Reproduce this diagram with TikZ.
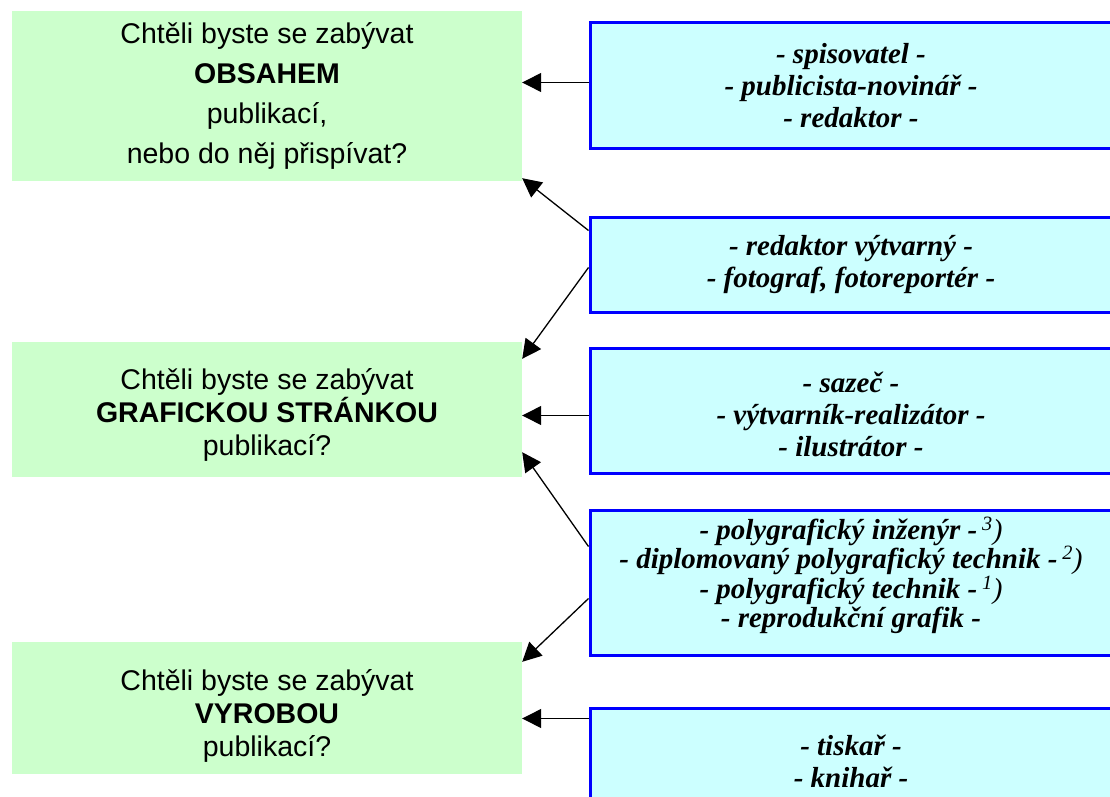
\documentclass[tikz,border=0pt]{standalone}
\usepackage{fontspec}
\setmainfont{Liberation Serif}
\newfontfamily\arialf{Liberation Sans}
\usetikzlibrary{arrows.meta}
\definecolor{gfill}{RGB}{204,255,204}
\definecolor{bfill}{RGB}{204,255,255}
\definecolor{bdraw}{RGB}{0,0,255}
\newcommand\fnref[1]{\,\textsuperscript{\mdseries #1}{\mdseries)}}
\begin{document}
\begin{tikzpicture}[x=1pt,y=-1pt,
  gbox/.style={fill=gfill, draw=none, inner sep=0pt, minimum width=510pt},
  gtext/.style={inner sep=0pt, align=center, font=\arialf\fontsize{28.5}{#1}\selectfont},
  bbox/.style={fill=bfill, draw=bdraw, line width=3pt, inner sep=0pt, minimum width=522pt},
  btext/.style={inner sep=0pt, align=center, font=\bfseries\itshape\fontsize{29}{#1}\selectfont},
  conn/.style={line width=1.3pt, -{Triangle[length=19pt,width=19pt]}}]
\useasboundingbox (0,0) rectangle (1110,797);
% green question boxes
\node[gbox, minimum height=170pt] (g1) at (267,96) {};
\node[gtext=40] (g1t) at (267,96) {Chtěli byste se zabývat\\ \textbf{OBSAHEM}\\ publikací,\\ nebo do něj přispívat?};
\node[gbox, minimum height=135pt] (g2) at (267,409.5) {};
\node[gtext=33] (g2t) at (267,415) {Chtěli byste se zabývat\\ \textbf{GRAFICKOU STRÁNKOU}\\ publikací?};
\node[gbox, minimum height=132pt] (g3) at (267,708) {};
\node[gtext=33] (g3t) at (267,716) {Chtěli byste se zabývat\\ \textbf{VYROBOU}\\ publikací?};
% blue profession boxes
\node[bbox, minimum height=125pt] (b1) at (851,85.5) {};
\node[btext=32] (b1t) at (851,86) {- spisovatel -\\ - publicista-novinář -\\ - redaktor -};
\node[bbox, minimum height=95pt] (b2) at (851,264.5) {};
\node[btext=32] (b2t) at (851,265) {- redaktor výtvarný -\\ - fotograf, fotoreportér -};
\node[bbox, minimum height=125pt] (b3) at (851,410.5) {};
\node[btext=32] (b3t) at (851,414) {- sazeč -\\ - výtvarník-realizátor -\\ - ilustrátor -};
\node[bbox, minimum height=145pt] (b4) at (851,582.5) {};
\node[btext=28.5] (b4t) at (851,575) {- polygrafický inženýr -\fnref{3}\\ - diplomovaný polygrafický technik -\fnref{2}\\ - polygrafický technik -\fnref{1}\\ - reprodukční grafik -};
\node[bbox, minimum height=97pt] (b5) at (851,756.5) {};
\node[btext=32] (b5t) at (851,761) {- tiskař -\\ - knihař -};
% connectors
\draw[conn] ([yshift=-61pt]b1.north west) -- ([yshift=-61pt]b1.north west -| g1.east);
\draw[conn] ([yshift=-15pt]b2.north west) -- ([yshift=3pt]g1.south east);
\draw[conn] ([yshift=-52pt]b2.north west) -- ([yshift=-17pt]g2.north east);
\draw[conn] ([yshift=-69pt]b3.north west) -- ([yshift=-69pt]b3.north west -| g2.east);
\draw[conn] ([yshift=-38pt]b4.north west) -- ([yshift=25pt]g2.south east);
\draw[conn] ([yshift=-90pt]b4.north west) -- ([yshift=-20pt]g3.north east);
\draw[conn] ([yshift=-12pt]b5.north west) -- ([yshift=-12pt]b5.north west -| g3.east);
\end{tikzpicture}
\end{document}
